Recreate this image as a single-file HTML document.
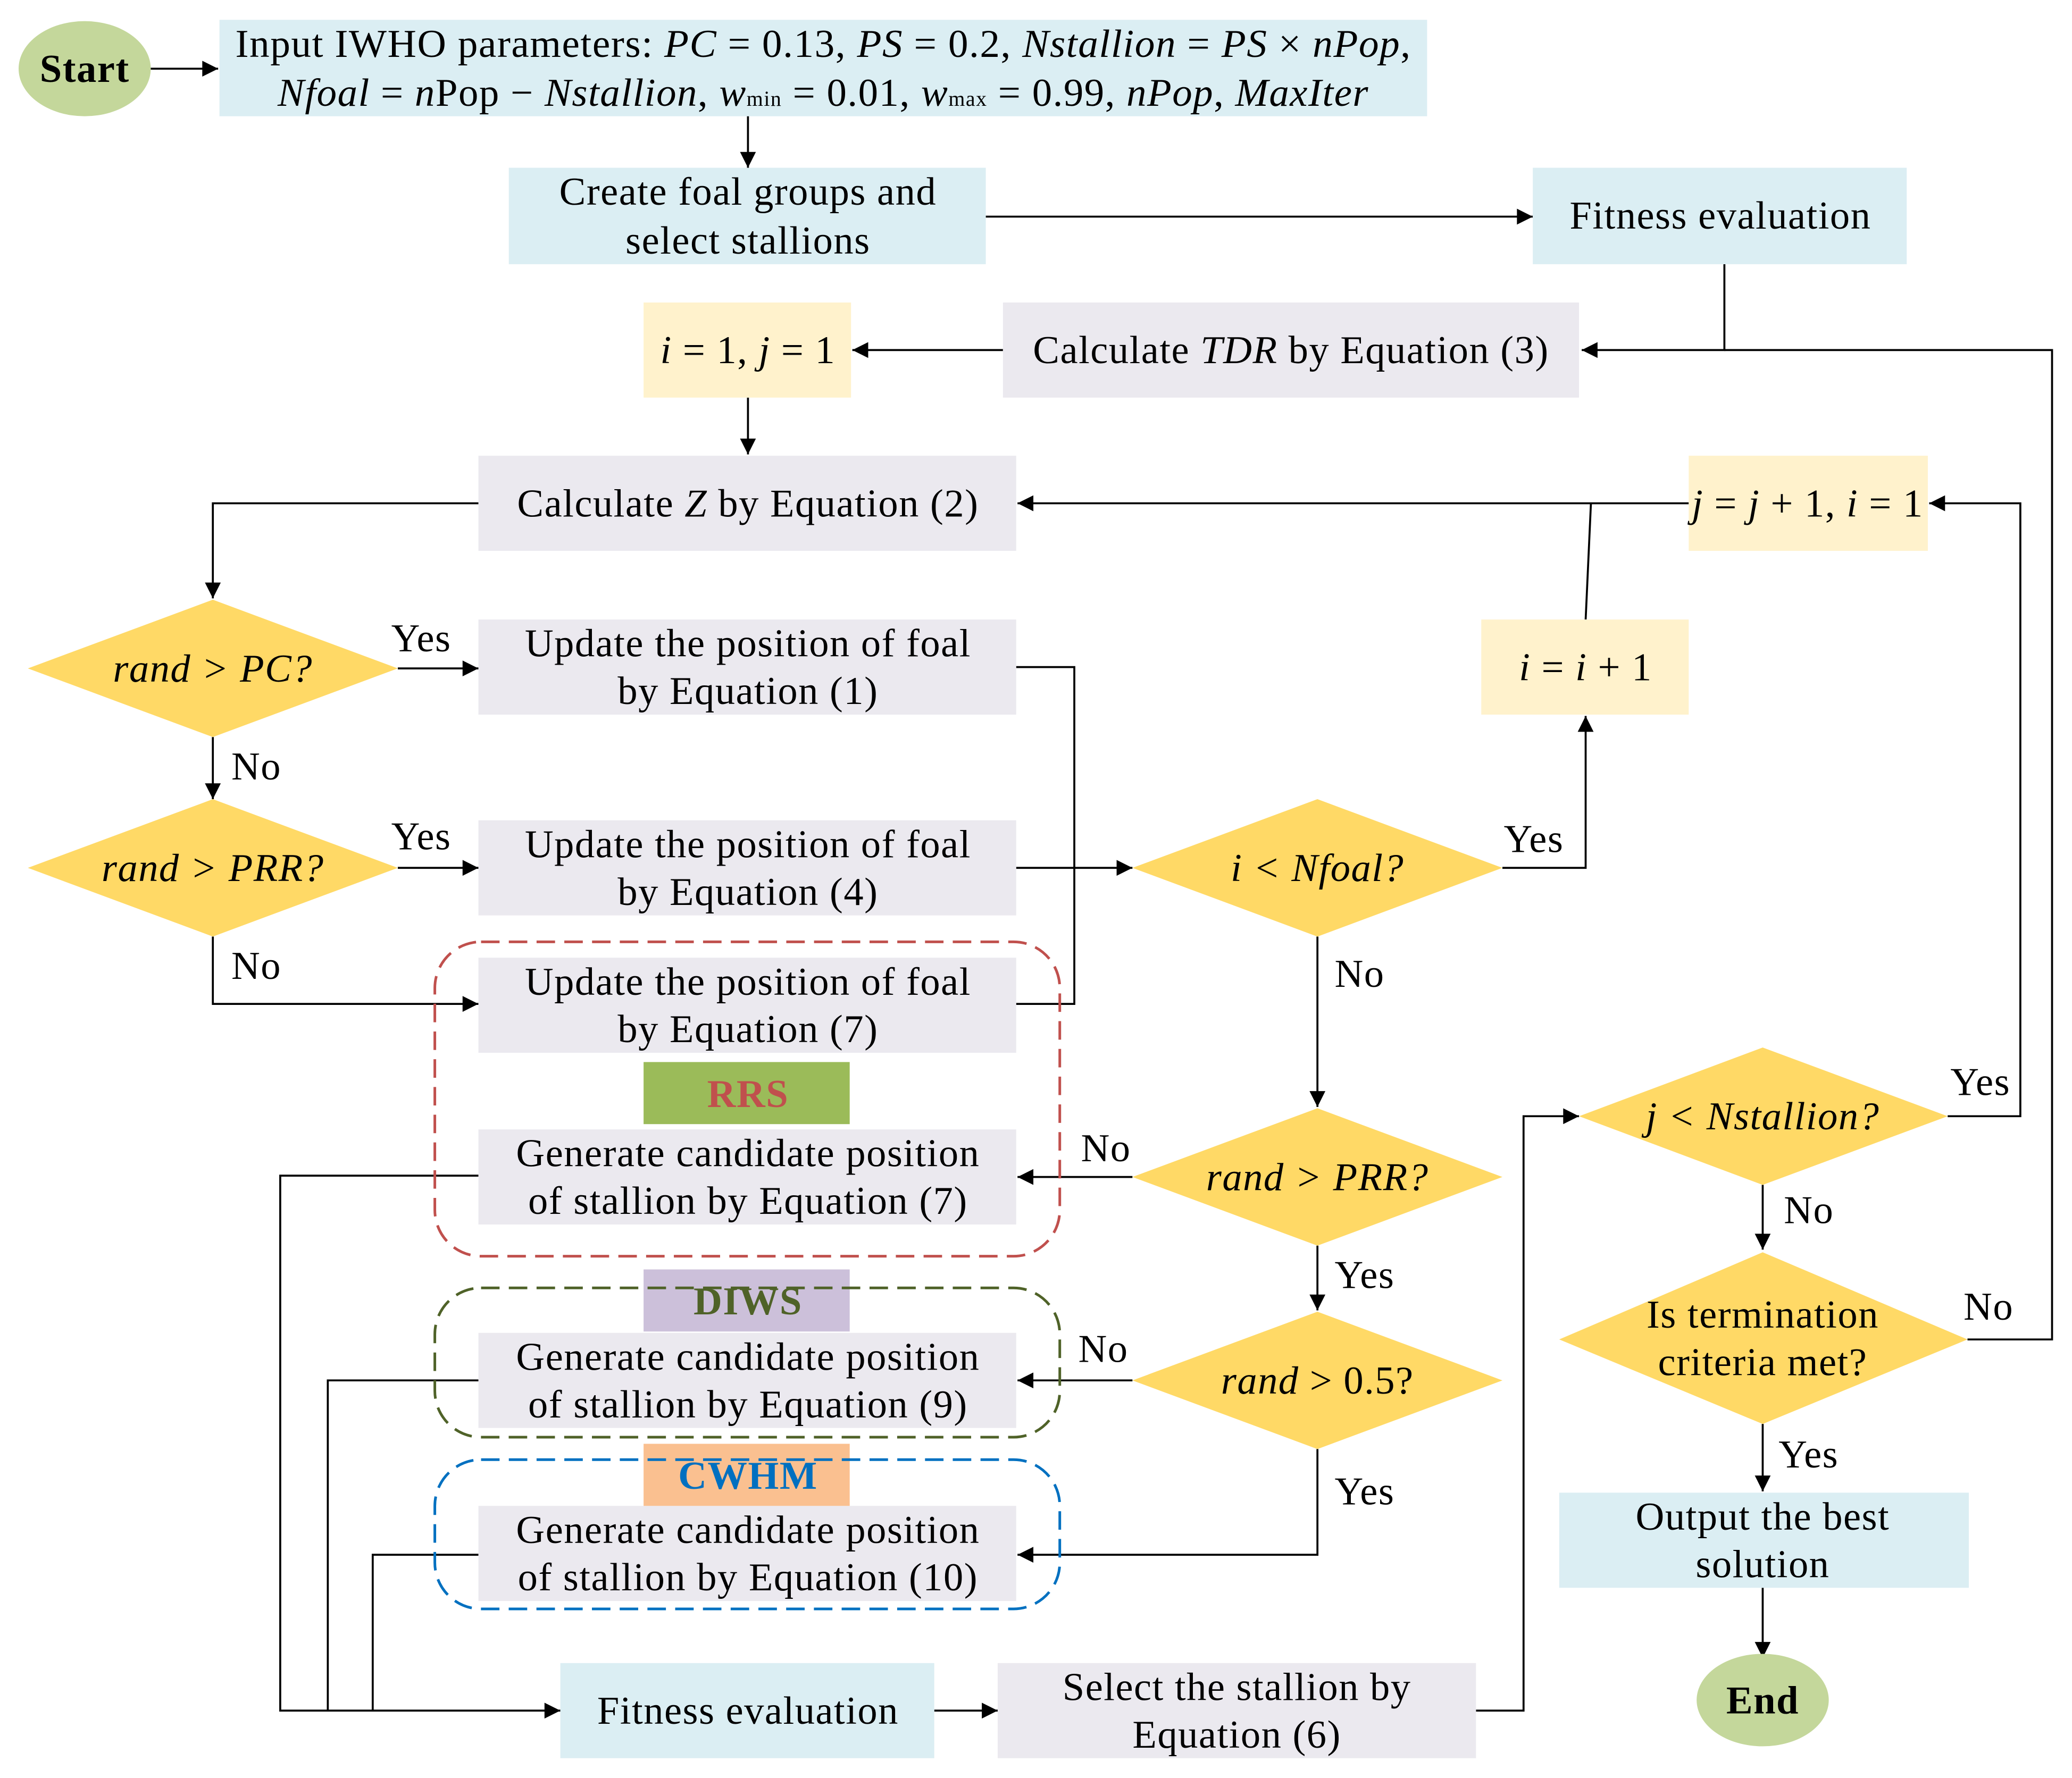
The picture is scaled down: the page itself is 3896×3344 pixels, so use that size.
<!DOCTYPE html>
<html><head><meta charset="utf-8"><style>
html,body{margin:0;padding:0;background:#fff}
svg{display:block}
text{font-family:"Liberation Serif",serif;font-size:30px;letter-spacing:0.6px}
.i{font-style:italic}
</style></head><body>
<svg width="3896" height="3344" viewBox="0 0 1568 1346" xmlns="http://www.w3.org/2000/svg">
<defs>
<marker id="a" viewBox="0 0 10 10" refX="10" refY="5" markerWidth="18" markerHeight="12" markerUnits="userSpaceOnUse" orient="auto"><path d="M0,0L10,5L0,10z" fill="#000"/></marker>
</defs>
<g stroke="#000" stroke-width="1.5" fill="none">
<path d="M114,52H165" marker-end="url(#a)"/>
<path d="M566,88V127" marker-end="url(#a)"/>
<path d="M746,164H1160" marker-end="url(#a)"/>
<path d="M1305,200V265H1197" marker-end="url(#a)"/>
<path d="M1305,265H1553V1014H1489"/>
<path d="M759,265H645" marker-end="url(#a)"/>
<path d="M566,301V344" marker-end="url(#a)"/>
<path d="M362,381H161V453" marker-end="url(#a)"/>
<path d="M301,506H362" marker-end="url(#a)"/>
<path d="M769,505H813V760H769"/>
<path d="M161,558V605" marker-end="url(#a)"/>
<path d="M301,657H362" marker-end="url(#a)"/>
<path d="M769,657H857" marker-end="url(#a)"/>
<path d="M161,709V760H362" marker-end="url(#a)"/>
<path d="M1137,657H1200V542" marker-end="url(#a)"/>
<path d="M1200,469L1204,381"/>
<path d="M1278,381H770" marker-end="url(#a)"/>
<path d="M997,709V838" marker-end="url(#a)"/>
<path d="M857,891H770" marker-end="url(#a)"/>
<path d="M997,943V992" marker-end="url(#a)"/>
<path d="M857,1045H770" marker-end="url(#a)"/>
<path d="M997,1097V1177H770" marker-end="url(#a)"/>
<path d="M362,890H212V1295H424" marker-end="url(#a)"/>
<path d="M362,1045H248V1295"/>
<path d="M362,1177H282V1295"/>
<path d="M707,1295H755" marker-end="url(#a)"/>
<path d="M1117,1295H1153V845H1195" marker-end="url(#a)"/>
<path d="M1474,845H1529V381H1460" marker-end="url(#a)"/>
<path d="M1334,897V946" marker-end="url(#a)"/>
<path d="M1334,1078V1129" marker-end="url(#a)"/>
<path d="M1334,1202V1255" marker-end="url(#a)"/>
</g>
<g stroke="none">
<ellipse cx="64" cy="52" rx="50" ry="36" fill="#c4d79b"/>
<rect x="166" y="15" width="914" height="73" fill="#dbeef3"/>
<rect x="385" y="127" width="361" height="73" fill="#dbeef3"/>
<rect x="1160" y="127" width="283" height="73" fill="#dbeef3"/>
<rect x="759" y="229" width="436" height="72" fill="#ebe9ef"/>
<rect x="487" y="229" width="157" height="72" fill="#fff2cc"/>
<rect x="362" y="345" width="407" height="72" fill="#ebe9ef"/>
<rect x="362" y="469" width="407" height="72" fill="#ebe9ef"/>
<rect x="362" y="621" width="407" height="72" fill="#ebe9ef"/>
<rect x="362" y="725" width="407" height="72" fill="#ebe9ef"/>
<rect x="362" y="855" width="407" height="72" fill="#ebe9ef"/>
<rect x="362" y="1009" width="407" height="72" fill="#ebe9ef"/>
<rect x="362" y="1140" width="407" height="72" fill="#ebe9ef"/>
<rect x="1121" y="469" width="157" height="72" fill="#fff2cc"/>
<rect x="1278" y="345" width="181" height="72" fill="#fff2cc"/>
<rect x="424" y="1259" width="283" height="72" fill="#dbeef3"/>
<rect x="755" y="1259" width="362" height="72" fill="#ebe9ef"/>
<rect x="1180" y="1130" width="310" height="72" fill="#dbeef3"/>
<ellipse cx="1334" cy="1287" rx="50" ry="35" fill="#c4d79b"/>
<rect x="487" y="804" width="156" height="47" fill="#9bbb59"/>
<rect x="487" y="961" width="156" height="47" fill="#ccc0da"/>
<rect x="487" y="1093" width="156" height="47" fill="#fac090"/>
<g fill="#ffd966">
<polygon points="21,506 161,454 301,506 161,558"/>
<polygon points="21,657 161,605 301,657 161,709"/>
<polygon points="857,657 997,605 1137,657 997,709"/>
<polygon points="857,891 997,839 1137,891 997,943"/>
<polygon points="857,1045 997,993 1137,1045 997,1097"/>
<polygon points="1195,845 1334,793 1474,845 1334,897"/>
<polygon points="1180,1014 1334,948 1489,1014 1334,1078"/>
</g>
</g>
<g fill="none" stroke-width="2" stroke-dasharray="14,7">
<rect x="329" y="713" width="473" height="238" rx="35" stroke="#c0504d"/>
<rect x="329" y="975" width="473" height="113" rx="35" stroke="#4f6228"/>
<rect x="329" y="1105" width="473" height="113" rx="35" stroke="#0070c0"/>
</g>
<g text-anchor="middle">
<text x="64" y="62" font-weight="bold">Start</text>
<text x="623" y="43" textLength="890" lengthAdjust="spacingAndGlyphs">Input IWHO parameters: <tspan class="i">PC</tspan> = 0.13, <tspan class="i">PS</tspan> = 0.2, <tspan class="i">Nstallion</tspan> = <tspan class="i">PS</tspan> × <tspan class="i">nPop</tspan>,</text>
<text x="623" y="80" textLength="826" lengthAdjust="spacingAndGlyphs"><tspan class="i">Nfoal</tspan> = <tspan class="i">n</tspan>Pop − <tspan class="i">Nstallion</tspan>, <tspan class="i">w</tspan><tspan font-size="16">min</tspan> = 0.01, <tspan class="i">w</tspan><tspan font-size="16">max</tspan> = 0.99, <tspan class="i">nPop</tspan>, <tspan class="i">MaxIter</tspan></text>
<text x="566" y="155">Create foal groups and</text>
<text x="566" y="192">select stallions</text>
<text x="1302" y="173">Fitness evaluation</text>
<text x="977" y="275">Calculate <tspan class="i">TDR</tspan> by Equation (3)</text>
<text x="566" y="275"><tspan class="i">i</tspan> = 1, <tspan class="i">j</tspan> = 1</text>
<text x="566" y="391">Calculate <tspan class="i">Z</tspan> by Equation (2)</text>
<text x="566" y="497">Update the position of foal</text>
<text x="566" y="533">by Equation (1)</text>
<text x="566" y="649">Update the position of foal</text>
<text x="566" y="685">by Equation (4)</text>
<text x="566" y="753">Update the position of foal</text>
<text x="566" y="789">by Equation (7)</text>
<text x="566" y="838" font-weight="bold" style="fill:#c0504d">RRS</text>
<text x="566" y="883">Generate candidate position</text>
<text x="566" y="919">of stallion by Equation (7)</text>
<text x="566" y="995" font-weight="bold" style="fill:#4f6228">DIWS</text>
<text x="566" y="1037">Generate candidate position</text>
<text x="566" y="1073">of stallion by Equation (9)</text>
<text x="566" y="1127" font-weight="bold" style="fill:#0070c0">CWHM</text>
<text x="566" y="1168">Generate candidate position</text>
<text x="566" y="1204">of stallion by Equation (10)</text>
<text x="566" y="1305">Fitness evaluation</text>
<text x="936" y="1287">Select the stallion by</text>
<text x="936" y="1323">Equation (6)</text>
<text x="1200" y="515"><tspan class="i">i</tspan> = <tspan class="i">i</tspan> + 1</text>
<text x="1368" y="391"><tspan class="i">j</tspan> = <tspan class="i">j</tspan> + 1, <tspan class="i">i</tspan> = 1</text>
<text x="161" y="516" class="i">rand &gt; PC?</text>
<text x="161" y="667" class="i">rand &gt; PRR?</text>
<text x="997" y="667" class="i">i &lt; Nfoal?</text>
<text x="997" y="901" class="i">rand &gt; PRR?</text>
<text x="997" y="1055"><tspan class="i">rand</tspan> &gt; 0.5?</text>
<text x="1334" y="855" class="i">j &lt; Nstallion?</text>
<text x="1334" y="1005">Is termination</text>
<text x="1334" y="1041">criteria met?</text>
<text x="1334" y="1158">Output the best</text>
<text x="1334" y="1194">solution</text>
<text x="1334" y="1297" font-weight="bold">End</text>
</g>
<g>
<text x="296" y="493">Yes</text>
<text x="175" y="590">No</text>
<text x="296" y="643">Yes</text>
<text x="175" y="741">No</text>
<text x="1138" y="645">Yes</text>
<text x="1010" y="747">No</text>
<text x="818" y="879">No</text>
<text x="1010" y="975">Yes</text>
<text x="816" y="1031">No</text>
<text x="1010" y="1139">Yes</text>
<text x="1476" y="829">Yes</text>
<text x="1350" y="926">No</text>
<text x="1486" y="999">No</text>
<text x="1346" y="1111">Yes</text>
</g>
</svg>
</body></html>
